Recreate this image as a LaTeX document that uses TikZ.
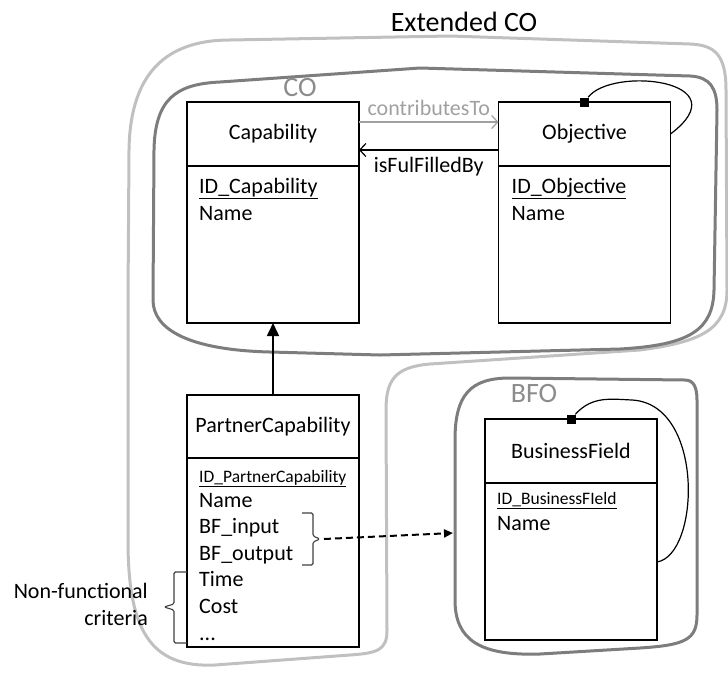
\documentclass[tikz,border=0pt]{standalone}
\usepackage{fontspec}
\setmainfont{Carlito}
\usetikzlibrary{positioning,calc,arrows.meta}
\definecolor{extgray}{RGB}{192,192,192}
\definecolor{setgray}{RGB}{125,125,125}
\definecolor{namegray}{RGB}{140,140,140}
\definecolor{linkgray}{RGB}{160,160,160}
\newcommand{\umlfont}{\fontsize{22}{27}\selectfont}
\newcommand{\idattrfont}{\fontsize{17.5}{21}\selectfont}
\newcommand{\groupfont}{\fontsize{28}{32}\selectfont}
\tikzset{
  classhead/.style={draw, line width=1.6pt, minimum width=172pt, minimum height=64pt, inner sep=0pt, outer sep=0pt, font=\umlfont},
  classbody/.style={draw, line width=1.6pt, minimum width=172pt, inner sep=0pt, outer sep=0pt},
  attr/.style={anchor=base west, inner sep=0pt, font=\umlfont},
  idattr/.style={attr, font=\idattrfont},
  extline/.style={draw=extgray, line width=3pt},
  setline/.style={draw=setgray, line width=3pt},
  setname/.style={text=namegray, font=\groupfont, inner sep=0pt},
  loopmark/.style={fill=black, minimum size=9pt, inner sep=0pt},
  loopline/.style={line width=1.2pt},
  bracket/.style={line width=1.1pt, draw=black!75, rounded corners=1.5pt},
  dashlink/.style={line width=2pt, dash pattern=on 7pt off 4pt, -{Triangle[length=9pt,width=8pt]}},
}

\begin{document}
\begin{tikzpicture}[x=1pt,y=-1pt]
  \useasboundingbox (0,0) rectangle (728,673);

  % Extended CO, CO and BFO outlines:
  \draw[extline] (128,300) -- (129,150) .. controls (130,80) and (160,40) .. (230,40) -- (450,36) -- (690,44)
    .. controls (715,45) and (726,55) .. (726,90) -- (727,290) .. controls (727,330) and (700,342) .. (640,350)
    -- (430,364) .. controls (395,367) and (386,380) .. (386,410) -- (387,630) .. controls (387,650) and (378,653) .. (350,655)
    -- (215,665) .. controls (150,668) and (128,630) .. (128,540) -- cycle;
  \draw[setline] (153,300) -- (154,150) .. controls (155,100) and (175,84) .. (220,82) -- (420,68) -- (690,76)
    .. controls (710,77) and (717,88) .. (717,110) -- (714,290) .. controls (713,330) and (690,345) .. (620,349)
    -- (380,355) -- (270,352) .. controls (190,350) and (153,330) .. (153,300) -- cycle;
  \draw[setline] (455,440) .. controls (455,395) and (470,378) .. (510,378) -- (685,380)
    .. controls (694,380) and (697,388) .. (697,400) -- (697,615) .. controls (697,640) and (685,645) .. (640,648)
    -- (540,654) .. controls (480,656) and (455,640) .. (455,600) -- cycle;

  \node[font=\groupfont, inner sep=0pt] (extlabel) at (464,22) {Extended CO};
  \node[setname] (colabel) at (300,88) {CO};
  \node[setname] (bfolabel) at (534,394) {BFO};

  % classes
  \node[classhead] (cap) at (273,134) {Capability};
  \node[classbody, minimum height=157pt, below=0pt of cap] (capbody) {};
  \node[attr] (capid) at ($(capbody.north west)+(12,27)$) {\underline{ID\_Capability}};
  \node[attr] (capname) at ($(capbody.north west)+(12,54)$) {Name};

  \node[classhead] (obj) at (584.5,134) {Objective};
  \node[classbody, minimum height=157pt, below=0pt of obj] (objbody) {};
  \node[attr] (objid) at ($(objbody.north west)+(13,27)$) {\underline{ID\_Objective}};
  \node[attr] (objname) at ($(objbody.north west)+(13,54)$) {Name};

  \node[classhead, minimum height=63pt] (pc) at (273,426.5) {PartnerCapability};
  \node[classbody, minimum height=189pt, below=0pt of pc] (pcbody) {};
  \node[idattr] (pcid) at ($(pcbody.north west)+(12,24)$) {\underline{ID\_PartnerCapability}};
  \foreach \attr [count=\i] in {Name, BF\_input, BF\_output, Time, Cost}
    \node[attr] (pcattr\i) at ($(pcbody.north west)+(12,22.4+26.6*\i)$) {\attr};
  \node[attr] (pcmore) at ($(pcbody.north west)+(12,182)$) {...};

  \node[classhead] (bf) at (571,451) {BusinessField};
  \node[classbody, minimum height=157pt, below=0pt of bf] (bfbody) {};
  \node[idattr] (bfid) at ($(bfbody.north west)+(12,21)$) {\underline{ID\_BusinessFIeld}};
  \node[attr] (bfname) at ($(bfbody.north west)+(12,47)$) {Name};

  % links
  \draw[linkgray, line width=1.2pt, -{Straight Barb[length=6pt,width=13pt]}] ($(cap.east)+(0,-12)$)
    -- node[above=2pt, text=linkgray, font=\umlfont] (contriblabel) {contributesTo} ($(obj.west)+(0,-12)$);
  \draw[line width=1.2pt, -{Straight Barb[length=6pt,width=13pt]}] ($(obj.west)+(0,16)$)
    -- node[below=3pt, font=\umlfont] (fulfilllabel) {isFulFilledBy} ($(cap.east)+(0,16)$);
  \draw[line width=1.6pt, -{Triangle[length=13pt,width=12pt]}] (pc.north) -- (capbody.south);

  \node[loopmark] (objmark) at (obj.north) {};
  \draw[loopline] (objmark) .. controls (612,66) and (742,80) .. (obj.east);
  \node[loopmark] (bfmark) at (bf.north) {};
  \draw[loopline] (bfmark) .. controls (592,396) and (610,399) .. (632,400)
    .. controls (705,404) and (700,555) .. ($(bfbody.north east)+(0,79)$);

  % brackets
  \draw[bracket] (302,513) -- (313,513) -- (313,536) -- (320,539) -- (313,542) -- (313,565) -- (302,565);
  \draw[bracket] (187,572) -- (174,572) -- (174,604) -- (164,607) -- (174,610) -- (174,643) -- (187,643);
  \node[attr, anchor=east, align=right] (nfclabel) at (148,604) {Non-functional\\criteria};

  \coordinate (bftip) at (324,539);
  \coordinate (bfoedge) at (453,533);
  \draw[dashlink] (bftip) -- (bfoedge);
\end{tikzpicture}
\end{document}
